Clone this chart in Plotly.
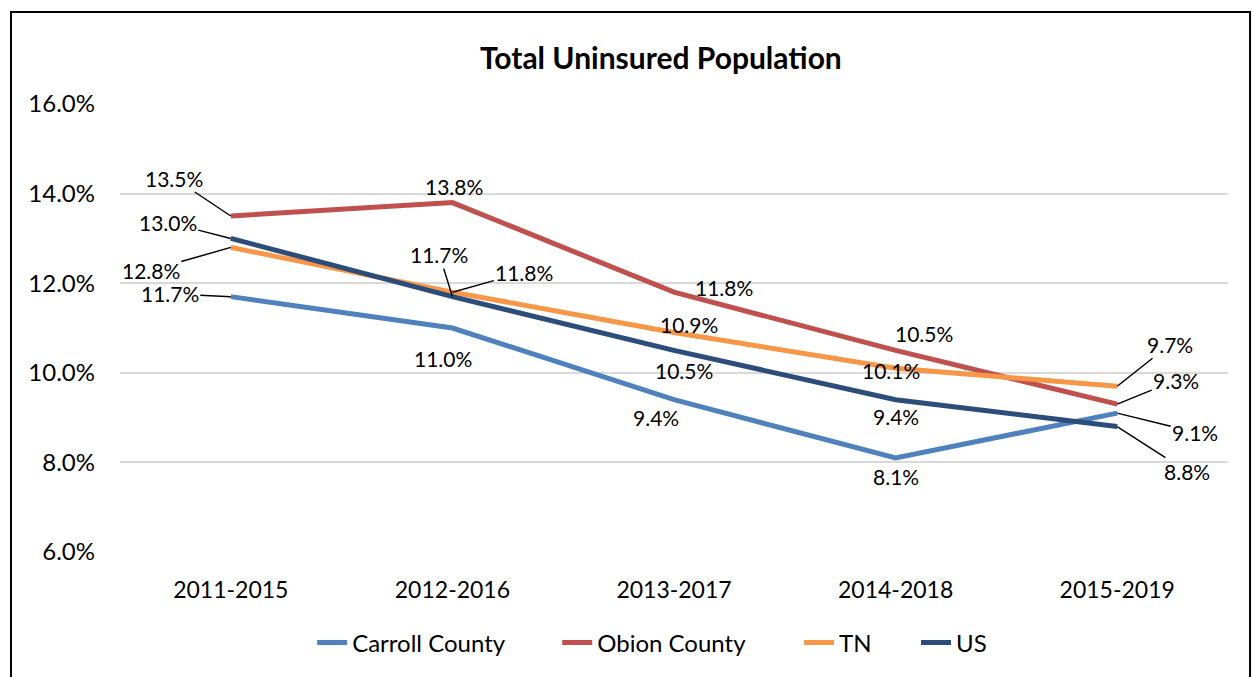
import plotly.graph_objects as go

periods = ["2011-2015", "2012-2016", "2013-2017", "2014-2018", "2015-2019"]
carroll = [11.7, 11.0, 9.4, 8.1, 9.1]
obion = [13.5, 13.8, 11.8, 10.5, 9.3]
tn = [12.8, 11.8, 10.9, 10.1, 9.7]
us = [13.0, 11.7, 10.5, 9.4, 8.8]

series = [
    ("Carroll County", carroll, "#4F81BD"),
    ("Obion County", obion, "#C0504D"),
    ("TN", tn, "#F79646"),
    ("US", us, "#2C4D7A"),
]

# label offsets in px from the point: (dx, dy down, leader line?)
label_pos = {
    "Carroll County": [(-61, -3, True), (-9, 30, False), (-18, 18, False), (0, 19, False), (78, 19, True)],
    "Obion County": [(-57, -38, True), (2, -16, False), (50, -5, False), (28, -17, False), (59, -24, True)],
    "TN": [(-80, 23, True), (72, -20, True), (15, -8, False), (-5, 2, False), (53, -42, True)],
    "US": [(-63, -16, True), (-13, -42, True), (10, 20, False), (0, 17, False), (70, 45, True)],
}

# each legend entry gets its own legend box so the spacing can follow the original
legend_x = [0.1734, 0.3946, 0.6129, 0.7184]

FONT = "Lato, Calibri, 'Open Sans', sans-serif"

fig = go.Figure()
annotations = []
legends = {}
for i, (name, vals, color) in enumerate(series):
    key = "legend" if i == 0 else f"legend{i + 1}"
    fig.add_trace(go.Scatter(
        x=periods, y=vals, name=name, mode="lines",
        line=dict(color=color, width=5), legend=key,
    ))
    legends[key] = dict(orientation="h", x=legend_x[i], xanchor="left",
                        y=-0.203, yanchor="middle", font=dict(size=24),
                        bgcolor="rgba(0,0,0,0)")
    for p, v, (dx, dy, leader) in zip(periods, vals, label_pos[name]):
        a = dict(x=p, y=v, text=f"{v:.1f}%", font=dict(size=21, color="black"))
        if leader:
            a.update(showarrow=True, ax=dx, ay=dy, arrowhead=0, arrowwidth=1.5,
                     arrowcolor="black", standoff=0)
        else:
            a.update(showarrow=False, xshift=dx, yshift=-dy)
        annotations.append(a)

# outer frame
fig.add_shape(type="rect", xref="paper", yref="paper",
              x0=-0.0984, x1=1.0199, y0=-0.35, y1=1.2054,
              line=dict(color="black", width=2), layer="below")

fig.update_layout(
    width=1254, height=677,
    margin=dict(l=120, r=26, t=104, b=125),
    paper_bgcolor="white", plot_bgcolor="white",
    font=dict(family=FONT, size=21, color="black"),
    title=dict(text="<b>Total Uninsured Population</b>", x=0.527, xanchor="center",
               y=1 - 58 / 677, yanchor="middle", yref="container",
               font=dict(size=30, color="black")),
    xaxis=dict(range=[-0.5, 4.5], showgrid=False, showline=False, zeroline=False,
               ticks="", ticklabelstandoff=22, tickfont=dict(size=23)),
    yaxis=dict(range=[6, 16], dtick=2, tickformat=".1f", ticksuffix="%",
               showgrid=True, gridcolor="#D9D9D9", gridwidth=1.5,
               zeroline=False, showline=False, ticks="", ticklabelstandoff=24,
               tickfont=dict(size=24)),
    annotations=annotations,
    showlegend=True,
    **legends,
)

# drop the default page margin so the figure sits at the window's corner
fig.write_html("out.html", config={"displayModeBar": False},
               post_script="document.body.style.margin='0';")
